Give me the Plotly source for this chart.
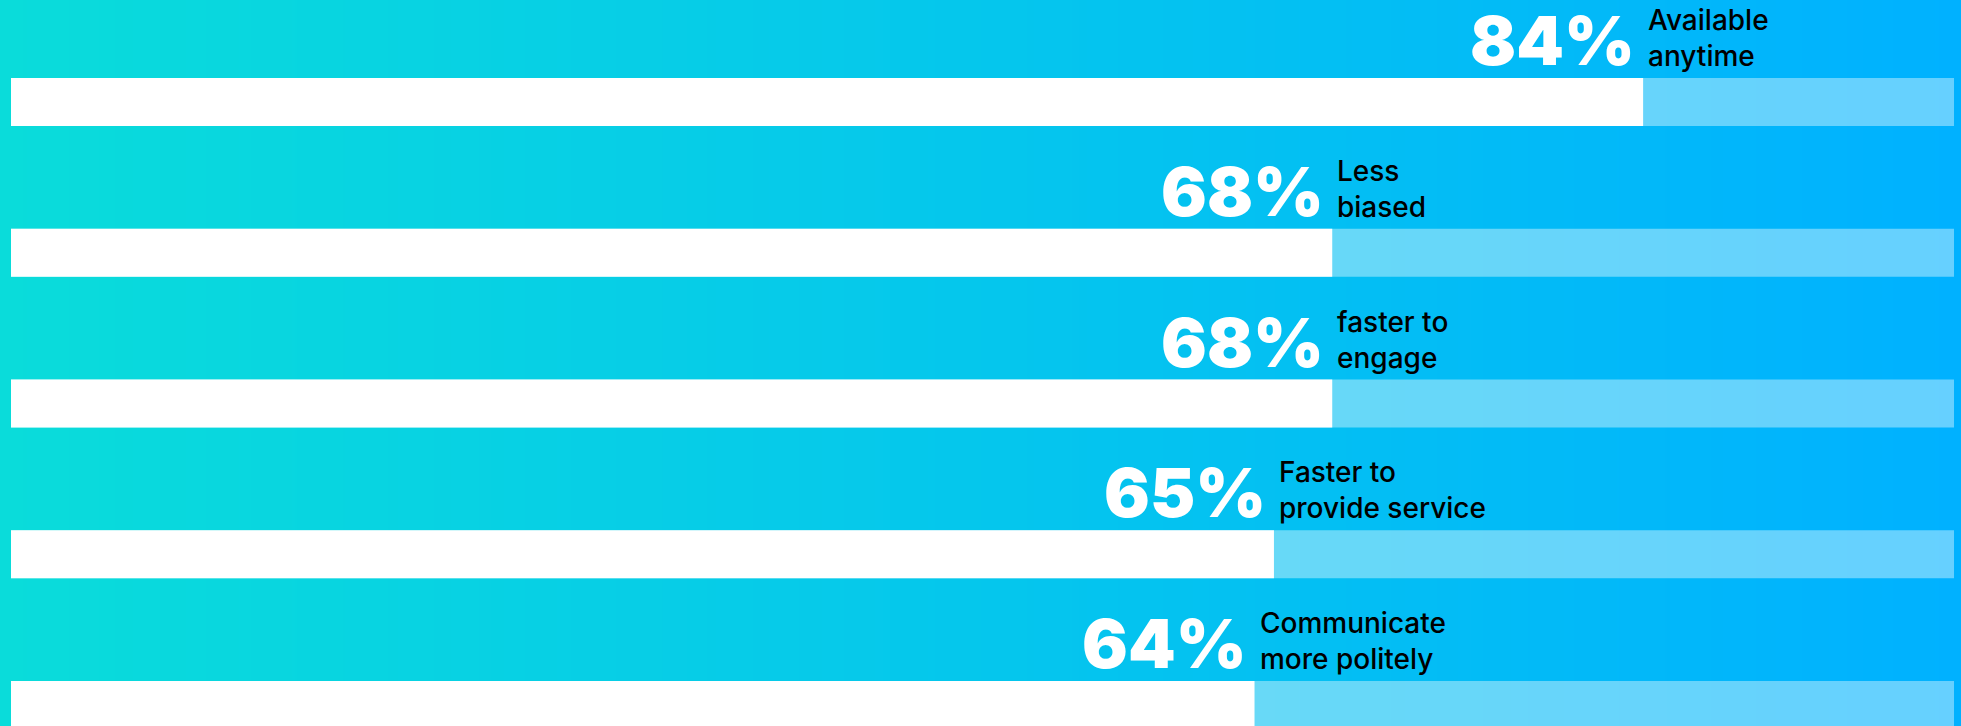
import plotly.graph_objects as go

# ---- data ----
categories = ["Available anytime", "Less biased", "faster to engage",
              "Faster to provide service", "Communicate more politely"]
label_lines = ["Available<br>anytime", "Less<br>biased", "faster to<br>engage",
               "Faster to<br>provide service", "Communicate<br>more politely"]
values = [84, 68, 68, 65, 64]
pct_labels = ["84%", "68%", "68%", "65%", "64%"]
track_max = 100

positions = list(range(len(values)))
bar_w = 0.318

fig = go.Figure()

# gradient background
fig.add_trace(go.Heatmap(
    x=[-0.57, 100.37], y=[-1, 5], z=[[0, 1], [0, 1]],
    colorscale=[[0, "#0ADCDA"], [1, "#00B1FF"]],
    zsmooth="best", showscale=False, hoverinfo="skip"))

# track
fig.add_trace(go.Bar(
    y=positions, x=[track_max] * len(values), orientation="h", width=bar_w,
    marker=dict(color="rgba(255,255,255,0.4)", line_width=0), hoverinfo="skip"))

# value bars
fig.add_trace(go.Bar(
    y=positions, x=values, orientation="h", width=bar_w,
    marker=dict(color="#FFFFFF", line_width=0), customdata=categories,
    hovertemplate="%{customdata}: %{x}%<extra></extra>"))

annotations = []
for i, (v, p, lab) in enumerate(zip(values, pct_labels, label_lines)):
    annotations.append(dict(
        x=v, y=i - bar_w / 2, xref="x", yref="y", text=p, showarrow=False,
        xanchor="right", yanchor="bottom", xshift=-6, yshift=-5,
        font=dict(family="Inter", size=68, color="#FFFFFF", weight=900)))
    annotations.append(dict(
        x=v, y=i - bar_w / 2, xref="x", yref="y", text=lab, showarrow=False,
        xanchor="left", yanchor="bottom", align="left", xshift=3, yshift=3,
        font=dict(family="Inter", size=28, color="#000000", weight=500)))

fig.update_layout(
    width=1961, height=726,
    margin=dict(l=0, r=0, t=0, b=0),
    barmode="overlay", showlegend=False,
    paper_bgcolor="#05C3EC", plot_bgcolor="rgba(0,0,0,0)",
    xaxis=dict(range=[-0.566, 100.36], visible=False, fixedrange=True),
    yaxis=dict(range=[4.139, -0.677], visible=False, fixedrange=True),
    annotations=annotations,
)

fig.write_html("out.html", config={"displayModeBar": False},
               post_script="document.body.style.margin='0';")
